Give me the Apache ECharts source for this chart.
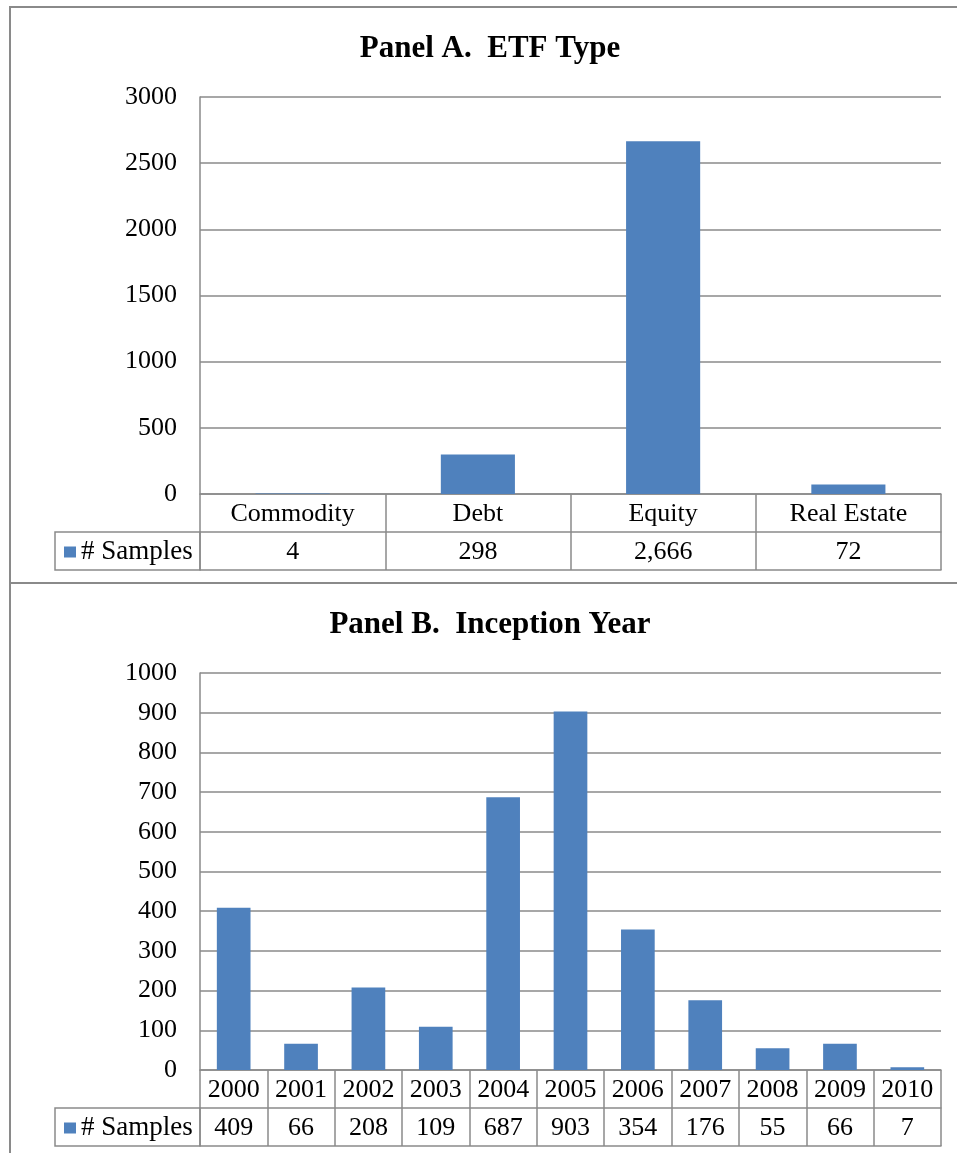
<!DOCTYPE html>
<html>
<head>
<meta charset="utf-8">
<script src="https://cdn.jsdelivr.net/npm/echarts@6/dist/echarts.min.js"></script>
<style>
  html, body { margin: 0; padding: 0; background: #ffffff; }
  #chart { width: 957px; height: 1153px; }
</style>
</head>
<body>
<div id="chart"></div>
<script>
// Panel A: number of ETF samples by type
const etfTypes = ['Commodity', 'Debt', 'Equity', 'Real Estate'];
const etfSamples = [4, 298, 2666, 72];
const etfTicks = [0, 500, 1000, 1500, 2000, 2500, 3000];

// Panel B: number of ETF samples by inception year
const years = ['2000', '2001', '2002', '2003', '2004', '2005', '2006', '2007', '2008', '2009', '2010'];
const yearSamples = [409, 66, 208, 109, 687, 903, 354, 176, 55, 66, 7];
const yearTicks = [0, 100, 200, 300, 400, 500, 600, 700, 800, 900, 1000];

const seriesName = '# Samples';

const FONT = '"Liberation Serif", "Times New Roman", serif';
const LINE = '#8a8a8a';
const BAR = '#4F81BD';
const ROW = 38;

const fmt = v => v.toLocaleString('en-US');

// value axis with horizontal gridlines
function valueAxis(gridIndex, ticks) {
  return {
    type: 'value', gridIndex,
    min: ticks[0], max: ticks[ticks.length - 1],
    interval: ticks[1] - ticks[0],
    axisLine: { show: true, lineStyle: { color: LINE, width: 1.5 } },
    axisTick: { show: false },
    axisLabel: { margin: 23, fontFamily: FONT, fontSize: 26, color: '#000',
                 formatter: v => String(v) },
    splitLine: { show: true, lineStyle: { color: LINE, width: 1.5 } }
  };
}

// three stacked category axes form the data table under each plot:
// header row (categories), value row, and the closing bottom rule
function tableAxes(gridIndex, cats, vals) {
  const label = { interval: 0, margin: ROW / 2 + 1, verticalAlign: 'middle',
                  fontFamily: FONT, fontSize: 26, color: '#000', hideOverlap: false };
  const line = { show: true, onZero: false, lineStyle: { color: LINE, width: 1.5 } };
  return [
    { type: 'category', gridIndex, data: cats, position: 'bottom',
      axisLine: line,
      axisTick: { show: true, length: ROW * 2, lineStyle: { color: LINE, width: 1.5 } },
      axisLabel: label, splitLine: { show: false } },
    { type: 'category', gridIndex, data: cats, position: 'bottom', offset: ROW,
      axisLine: line, axisTick: { show: false },
      axisLabel: Object.assign({}, label, { formatter: (v, i) => fmt(vals[i]) }),
      splitLine: { show: false } },
    { type: 'category', gridIndex, data: cats, position: 'bottom', offset: ROW * 2,
      axisLine: line, axisTick: { show: false },
      axisLabel: { show: false }, splitLine: { show: false } }
  ];
}

function legendCell(top) {
  return {
    type: 'rect',
    shape: { x: 55, y: top, width: 145, height: ROW },
    style: { fill: null, stroke: LINE, lineWidth: 1.5 },
    silent: true
  };
}

function frame(top, height) {
  return {
    type: 'rect',
    shape: { x: 10, y: top, width: 1000, height: height },
    style: { fill: null, stroke: LINE, lineWidth: 2 },
    silent: true
  };
}

const titleStyle = { fontFamily: FONT, fontSize: 31, fontWeight: 'bold', color: '#000' };
const legendBase = {
  orient: 'horizontal', left: 64, padding: 0,
  icon: 'rect', itemWidth: 12, itemHeight: 11,
  textStyle: { fontFamily: FONT, fontSize: 27, color: '#000', lineHeight: 30 },
  selectedMode: false, data: [seriesName]
};

const chart = echarts.init(document.getElementById('chart'), null, { renderer: 'canvas' });

chart.setOption({
  animation: false,
  backgroundColor: '#ffffff',
  title: [
    { text: 'Panel A.  ETF Type', left: 490, top: 33, textAlign: 'center', padding: 0, textStyle: titleStyle },
    { text: 'Panel B.  Inception Year', left: 490, top: 609, textAlign: 'center', padding: 0, textStyle: titleStyle }
  ],
  legend: [
    Object.assign({}, legendBase, { top: 537 }),
    Object.assign({}, legendBase, { top: 1113 })
  ],
  grid: [
    { left: 200, top: 97, width: 741, height: 397, outerBoundsMode: 'none', containLabel: false },
    { left: 200, top: 673, width: 741, height: 397, outerBoundsMode: 'none', containLabel: false }
  ],
  xAxis: tableAxes(0, etfTypes, etfSamples).concat(tableAxes(1, years, yearSamples)),
  yAxis: [valueAxis(0, etfTicks), valueAxis(1, yearTicks)],
  series: [
    { name: seriesName, type: 'bar', xAxisIndex: 0, yAxisIndex: 0,
      data: etfSamples, barCategoryGap: '60%', itemStyle: { color: BAR } },
    { name: seriesName, type: 'bar', xAxisIndex: 3, yAxisIndex: 1,
      data: yearSamples, barCategoryGap: '50%', itemStyle: { color: BAR } }
  ],
  graphic: [
    // chart area frames
    frame(7, 576),
    frame(583, 600),
    // legend key cells of the data tables
    legendCell(532),
    legendCell(1108)
  ]
});
</script>
</body>
</html>
